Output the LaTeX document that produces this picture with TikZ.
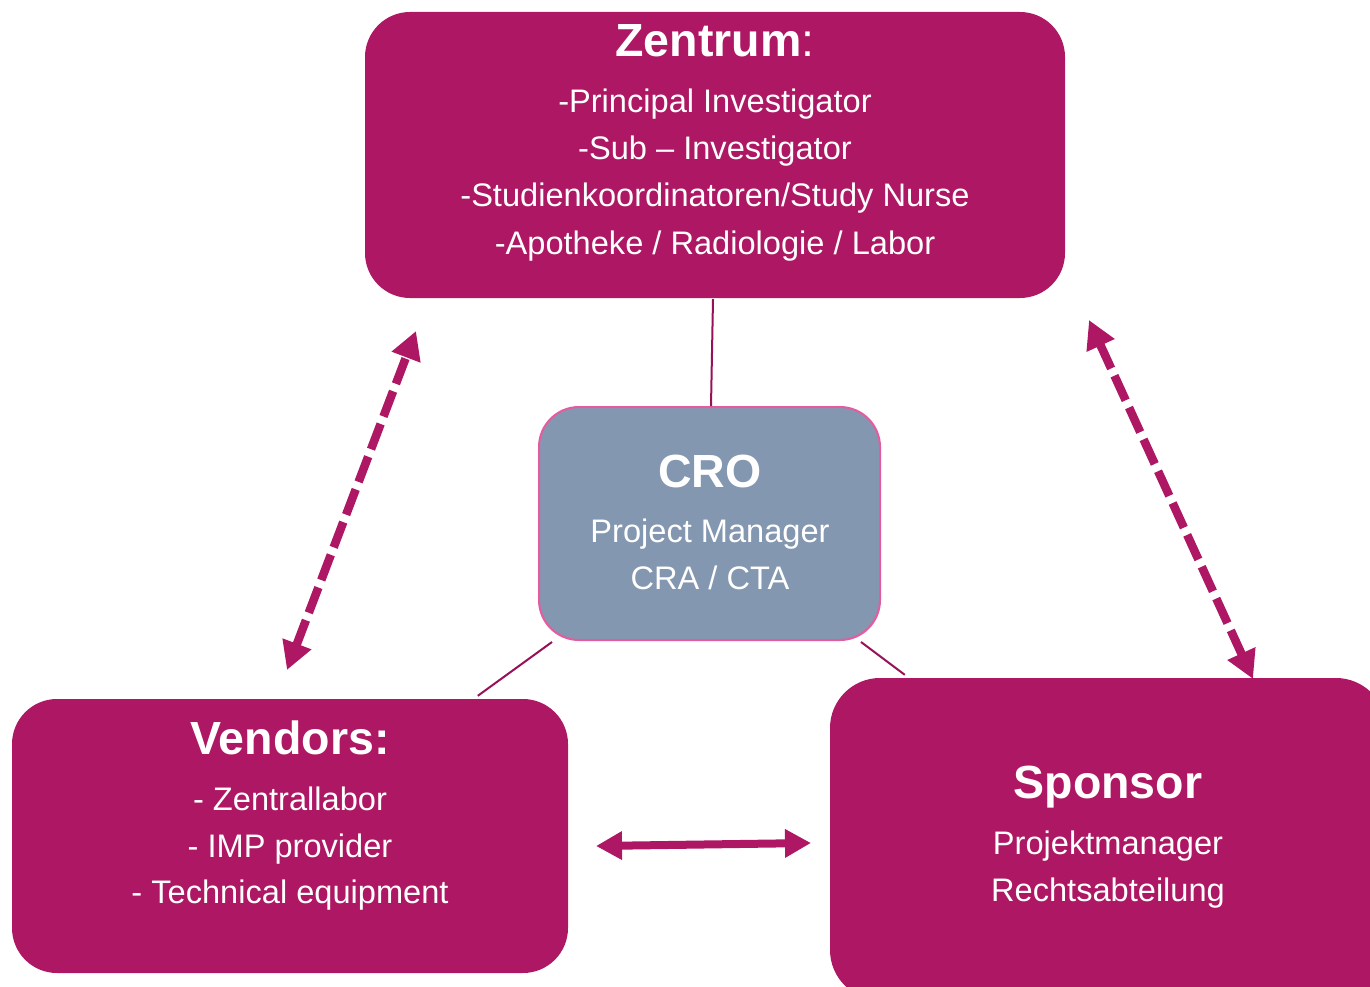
\documentclass[tikz,border=0pt]{standalone}
\usepackage{fontspec}
\setmainfont{Liberation Sans}
\usetikzlibrary{arrows.meta,calc}

\definecolor{berry}{RGB}{173,23,99}
\definecolor{berryline}{RGB}{150,18,85}
\definecolor{slate}{RGB}{132,151,176}
\definecolor{rose}{RGB}{230,90,160}

\tikzset{
  box/.style={rectangle, rounded corners=45pt, fill=berry, draw=none, inner sep=0pt},
  crobox/.style={rectangle, rounded corners=40pt, fill=slate, draw=rose, line width=2pt, inner sep=0pt},
  title/.style={text=white, anchor=base, inner sep=0pt, font=\fontsize{46.5}{50}\selectfont\bfseries},
  item/.style={text=white, anchor=base, inner sep=0pt, font=\fontsize{32.6}{36}\selectfont},
  link/.style={draw=berryline, line width=2pt},
  dashlink/.style={draw=berry, line width=8.5pt, dash pattern=on 27pt off 8pt,
    {Triangle[length=28pt,width=29pt]}-{Triangle[length=28pt,width=29pt]}},
  solidlink/.style={draw=berry, line width=8pt,
    {Triangle[length=26pt,width=27pt]}-{Triangle[length=26pt,width=27pt]}},
}

\begin{document}
\begin{tikzpicture}[x=1pt,y=-1pt]
  \useasboundingbox (0,0) rectangle (1370,987);
  \clip (0,0) rectangle (1370,987);

  % boxes
  \node[box, minimum width=700pt, minimum height=286pt] (zen) at (715,155) {};
  \node[crobox, minimum width=341pt, minimum height=233pt] (cro) at (709.5,523.5) {};
  \node[box, minimum width=556pt, minimum height=274pt] (ven) at (290,836) {};
  \node[box, rounded corners=50pt, minimum width=556pt, minimum height=322pt] (spo) at (1108,839) {};

  % Zentrum
  \node[title] (zenT) at (715,57) {Zentrum\textmd{:}};
  \node[item] (zen1) at (715,113) {-Principal Investigator};
  \node[item] (zen2) at (715,160) {-Sub – Investigator};
  \node[item] (zen3) at (715,207) {-Studienkoordinatoren/Study Nurse};
  \node[item] (zen4) at (715,254) {-Apotheke / Radiologie / Labor};

  % CRO
  \node[title] (croT) at (710,487) {CRO};
  \node[item] (cro1) at (710,542) {Project Manager};
  \node[item] (cro2) at (710,589) {CRA / CTA};

  % Vendors
  \node[title] (venT) at (290,754) {Vendors:};
  \node[item] (ven1) at (290,810) {- Zentrallabor};
  \node[item] (ven2) at (290,857) {- IMP provider};
  \node[item] (ven3) at (290,903) {- Technical equipment};

  % Sponsor
  \node[title] (spoT) at (1108,798) {Sponsor};
  \node[item] (spo1) at (1108,854) {Projektmanager};
  \node[item] (spo2) at (1108,901) {Rechtsabteilung};

  % thin links from the CRO
  \draw[link] ($(zen.south)+(-2,1)$) -- ($(cro.north)+(1.5,0)$);
  \draw[link] ($(cro.south west)+(14,1)$) -- ($(ven.north west)+(466,-3)$);
  \draw[link] ($(cro.south east)+(-20,1)$) -- ($(spo.north west)+(75,-3)$);

  % arrow end points
  \coordinate (vlTop) at (416,331);
  \coordinate (vlBot) at (287,670);
  \coordinate (srTop) at (1089,320);
  \coordinate (srBot) at (1253,679);
  \coordinate (hL) at (596,846);
  \coordinate (hR) at (811,843);

  % arrows
  \draw[dashlink] (vlBot) -- (vlTop);
  \draw[dashlink] (srTop) -- (srBot);
  \draw[solidlink] (hL) -- (hR);
\end{tikzpicture}
\end{document}
